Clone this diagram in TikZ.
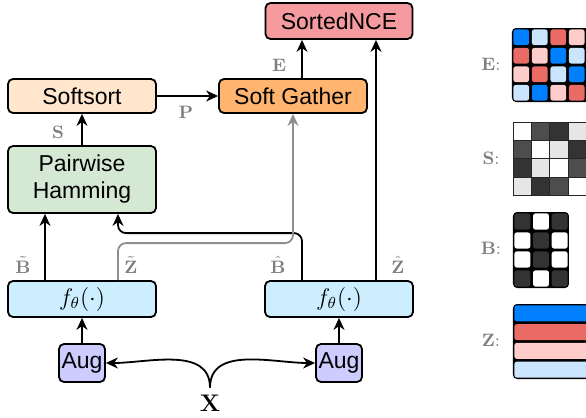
\documentclass[tikz,border=0pt]{standalone}
\usepackage[no-math]{fontspec}
\setmainfont{Liberation Sans}
\usepackage{amsmath}
\usepackage{tikz}
\usetikzlibrary{arrows.meta,calc}
\definecolor{ncered}{HTML}{F59BA0}
\definecolor{sortpeach}{HTML}{FFE6CC}
\definecolor{gatherorange}{HTML}{FFB570}
\definecolor{hamgreen}{HTML}{D5E8D4}
\definecolor{encblue}{HTML}{CCEEFF}
\definecolor{augpurple}{HTML}{CCCCFF}
\definecolor{labgray}{HTML}{808080}
\definecolor{routegray}{HTML}{8F8F8F}
\definecolor{eblue}{HTML}{007FFF}
\definecolor{elight}{HTML}{CCE5FF}
\definecolor{ered}{HTML}{EA6B66}
\definecolor{epink}{HTML}{FFCCCC}
\definecolor{sd}{HTML}{4D4D4D}
\definecolor{sk}{HTML}{333333}
\definecolor{sl}{HTML}{E6E6E6}

\begin{document}
\begin{tikzpicture}[x=0.5pt,y=-0.5pt,
    box/.style={draw, line width=0.9pt, rounded corners=2.5pt, inner sep=0pt, align=center,
      font=\fontsize{11.5}{13.5}\selectfont, minimum width=74pt, minimum height=17pt},
    enc/.style={box, fill=encblue, minimum height=18pt, font=\fontsize{12}{14}\selectfont},
    aug/.style={box, fill=augpurple, minimum width=23pt, minimum height=19pt},
    lbl/.style={text=labgray, inner sep=0pt, font=\fontsize{9}{10}\selectfont},
    arr/.style={line width=0.9pt, -{Stealth[length=6pt,width=5.5pt]}}]
        \useasboundingbox (0,0) rectangle (586,418);
        \clip (0,0) rectangle (586,418);
        % Define the blocks
        \node[box, fill=ncered, minimum width=73.5pt, minimum height=18pt] (nce) at (339,21) {SortedNCE};
        \node[box, fill=sortpeach] (sort) at (82,96) {Softsort};
        \node[box, fill=gatherorange] (gather) at (293,96) {Soft Gather};
        \node[box, fill=hamgreen, minimum height=33.5pt] (ham) at (82,179.5) {Pairwise\\Hamming};
        \node[enc] (encL) at (82,299) {$f_\theta(\cdot)$};
        \node[enc] (encR) at (339,299) {$f_\theta(\cdot)$};
        \node[aug] (augL) at (82,363) {Aug};
        \node[aug] (augR) at (339,363) {Aug};
        \node[font=\fontsize{12}{14}\selectfont] (x) at (210,403) {$\mathbf{X}$};
        % Add connectors
        \coordinate (eOut) at ($(gather.north)+(9,0)$);
        \coordinate (zhOut) at ($(encR.north)+(37,0)$);
        \coordinate (bhOut) at ($(encR.north)+(-37,0)$);
        \coordinate (btOut) at ($(encL.north)+(-37,0)$);
        \coordinate (ztOut) at ($(encL.north)+(36,0)$);
        \coordinate (bhIn) at ($(ham.south)+(36,0)$);
        \draw[arr] (sort) -- (gather);
        \draw[arr] (eOut) -- (eOut |- nce.south);
        \draw[arr] (zhOut) -- (zhOut |- nce.south);
        \draw[arr] (ham) -- (sort);
        \draw[arr] (btOut) -- (btOut |- ham.south);
        \draw[arr, rounded corners=4pt] (bhOut) -- ++(0,-47) -| (bhIn);
        \draw[arr, color=routegray, rounded corners=4pt] (ztOut) -- ++(0,-37) -| (gather.south);
        \draw[arr] (augL) -- (encL);
        \draw[arr] (augR) -- (encR);
        \draw[arr] (x.north) to[out=90, in=0] (augL.east);
        \draw[arr] (x.north) to[out=90, in=180] (augR.west);
        % Add connector labels
        \node[lbl] (lP) at (186,112) {$\mathbf{P}$};
        \node[lbl] (lE) at (279,65) {$\mathbf{E}$};
        \node[lbl] (lS) at (58,132) {$\mathbf{S}$};
        \node[lbl] (lBt) at (23,265) {$\tilde{\mathbf{B}}$};
        \node[lbl] (lZt) at (131,265) {$\tilde{\mathbf{Z}}$};
        \node[lbl] (lBh) at (278,265) {$\hat{\mathbf{B}}$};
        \node[lbl] (lZh) at (398,265) {$\hat{\mathbf{Z}}$};
        % Define the matrices
        \node[lbl] (mE) at (491,64) {$\mathbf{E}{:}$};
        \node[lbl] (mS) at (491,158) {$\mathbf{S}{:}$};
        \node[lbl] (mB) at (491,248) {$\mathbf{B}{:}$};
        \node[lbl] (mZ) at (491,340) {$\mathbf{Z}{:}$};
        \fill[rounded corners=2pt] (512,28) rectangle (600,102);
        \foreach \row [count=\j from 0] in {{eblue,elight,ered,epink},{ered,epink,eblue,elight},{epink,ered,elight,eblue},{elight,eblue,epink,ered}} {
            \foreach \c [count=\i from 0] in \row {
                \pgfmathsetmacro{\x}{512 + 18.5*\i}
                \pgfmathsetmacro{\y}{28 + 18.5*\j}
                \fill[\c, rounded corners=1.2pt] (\x+1.4,\y+1.4) rectangle (\x+17.1,\y+17.1);
            }
        }
        \foreach \row [count=\j from 0] in {{white,sd,sk,sl},{sd,white,sl,sk},{sk,sl,white,sd},{sl,sk,sd,white}} {
            \foreach \c [count=\i from 0] in \row {
                \pgfmathsetmacro{\x}{513 + 18.3*\i}
                \pgfmathsetmacro{\y}{122 + 18.3*\j}
                \filldraw[fill=\c, draw=black!85, line width=0.35pt] (\x,\y) rectangle (\x+18.3,\y+18.3);
            }
        }
        \fill[rounded corners=2pt] (513,212) rectangle (569,288);
        \foreach \row [count=\j from 0] in {{sk,white,sk},{white,sk,white},{white,sk,white},{sk,white,sk}} {
            \foreach \c [count=\i from 0] in \row {
                \pgfmathsetmacro{\x}{513 + 18.67*\i}
                \pgfmathsetmacro{\y}{212 + 19*\j}
                \fill[\c, rounded corners=1.2pt] (\x+1.4,\y+1.4) rectangle (\x+17.3,\y+17.6);
            }
        }
        \fill[rounded corners=2pt] (513,304) rectangle (600,379);
        \foreach \c [count=\j from 0] in {eblue,ered,epink,elight} {
            \pgfmathsetmacro{\y}{304 + 18.75*\j}
            \fill[\c, rounded corners=1.2pt] (514.4,\y+1.4) rectangle (598,\y+17.35);
        }
\end{tikzpicture}
\end{document}
